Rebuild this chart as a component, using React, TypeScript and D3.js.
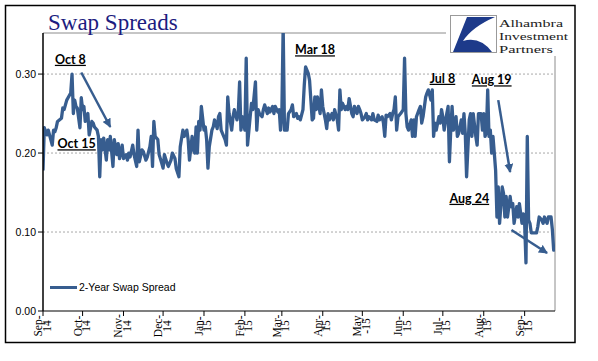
import React from "react";
import * as d3 from "d3";

// 2-year swap spread, roughly daily (one line per month)
const dates = [
  "2014-09-01","2014-09-02","2014-09-04","2014-09-05","2014-09-08","2014-09-09","2014-09-10","2014-09-11","2014-09-12","2014-09-15","2014-09-16","2014-09-17","2014-09-18","2014-09-19","2014-09-20","2014-09-22","2014-09-23","2014-09-24","2014-09-25","2014-09-26","2014-09-27","2014-09-29","2014-09-30",
  "2014-10-01","2014-10-02","2014-10-03","2014-10-05","2014-10-06","2014-10-08","2014-10-09","2014-10-10","2014-10-12","2014-10-13","2014-10-14","2014-10-15","2014-10-16","2014-10-17","2014-10-19","2014-10-20","2014-10-21","2014-10-22","2014-10-24","2014-10-25","2014-10-27","2014-10-28","2014-10-29","2014-10-31",
  "2014-11-01","2014-11-03","2014-11-04","2014-11-05","2014-11-06","2014-11-08","2014-11-09","2014-11-11","2014-11-12","2014-11-13","2014-11-15","2014-11-16","2014-11-18","2014-11-19","2014-11-21","2014-11-22","2014-11-23","2014-11-24","2014-11-25","2014-11-27","2014-11-28","2014-11-30",
  "2014-12-01","2014-12-02","2014-12-04","2014-12-05","2014-12-07","2014-12-08","2014-12-10","2014-12-11","2014-12-13","2014-12-14","2014-12-16","2014-12-17","2014-12-19","2014-12-20","2014-12-21","2014-12-23","2014-12-24","2014-12-25","2014-12-26","2014-12-27","2014-12-28","2014-12-29","2014-12-30",
  "2015-01-01","2015-01-02","2015-01-03","2015-01-04","2015-01-05","2015-01-07","2015-01-08","2015-01-09","2015-01-11","2015-01-12","2015-01-13","2015-01-14","2015-01-15","2015-01-17","2015-01-18","2015-01-19","2015-01-20","2015-01-22","2015-01-23","2015-01-24","2015-01-26","2015-01-27","2015-01-28","2015-01-29","2015-01-30",
  "2015-02-01","2015-02-02","2015-02-03","2015-02-05","2015-02-06","2015-02-07","2015-02-09","2015-02-10","2015-02-11","2015-02-12","2015-02-14","2015-02-15","2015-02-16","2015-02-18","2015-02-19","2015-02-20","2015-02-22","2015-02-23","2015-02-24","2015-02-26","2015-02-27","2015-02-28",
  "2015-03-01","2015-03-02","2015-03-03","2015-03-05","2015-03-06","2015-03-08","2015-03-09","2015-03-10","2015-03-12","2015-03-13","2015-03-14","2015-03-15","2015-03-17","2015-03-18","2015-03-19","2015-03-21","2015-03-22","2015-03-24","2015-03-25","2015-03-26","2015-03-27","2015-03-28","2015-03-30","2015-03-31",
  "2015-04-01","2015-04-03","2015-04-04","2015-04-05","2015-04-06","2015-04-08","2015-04-09","2015-04-10","2015-04-12","2015-04-13","2015-04-14","2015-04-15","2015-04-16","2015-04-18","2015-04-19","2015-04-20","2015-04-21","2015-04-23","2015-04-24","2015-04-25","2015-04-27","2015-04-28","2015-04-29","2015-04-30",
  "2015-05-01","2015-05-03","2015-05-04","2015-05-05","2015-05-06","2015-05-08","2015-05-09","2015-05-10","2015-05-12","2015-05-13","2015-05-14","2015-05-16","2015-05-17","2015-05-18","2015-05-19","2015-05-20","2015-05-22","2015-05-23","2015-05-24","2015-05-25","2015-05-26","2015-05-27","2015-05-28","2015-05-30",
  "2015-06-01","2015-06-02","2015-06-03","2015-06-04","2015-06-05","2015-06-07","2015-06-08","2015-06-09","2015-06-10","2015-06-11","2015-06-13","2015-06-14","2015-06-15","2015-06-16","2015-06-18","2015-06-19","2015-06-20","2015-06-22","2015-06-23","2015-06-24","2015-06-25","2015-06-26","2015-06-28","2015-06-29","2015-06-30",
  "2015-07-01","2015-07-02","2015-07-04","2015-07-05","2015-07-06","2015-07-07","2015-07-08","2015-07-09","2015-07-11","2015-07-12","2015-07-13","2015-07-15","2015-07-16","2015-07-17","2015-07-18","2015-07-19","2015-07-21","2015-07-22","2015-07-23","2015-07-24","2015-07-26","2015-07-27","2015-07-28","2015-07-30","2015-07-31",
  "2015-08-01","2015-08-02","2015-08-03","2015-08-04","2015-08-05","2015-08-06","2015-08-07","2015-08-08","2015-08-09","2015-08-10","2015-08-11","2015-08-12","2015-08-13","2015-08-15","2015-08-16","2015-08-17","2015-08-18","2015-08-19","2015-08-21","2015-08-22","2015-08-23","2015-08-24","2015-08-26","2015-08-27","2015-08-28","2015-08-30","2015-08-31",
  "2015-09-01","2015-09-02","2015-09-03","2015-09-04","2015-09-05","2015-09-06","2015-09-07","2015-09-10","2015-09-11","2015-09-12","2015-09-14","2015-09-15","2015-09-16","2015-09-18","2015-09-19","2015-09-20","2015-09-21","2015-09-22","2015-09-23","2015-09-24",
];

const spreadValues = [
  0.178,0.232,0.223,0.229,0.210,0.229,0.227,0.232,0.240,0.244,0.257,0.255,0.261,0.267,0.270,0.276,0.300,0.250,0.267,0.259,0.257,0.232,0.270,
  0.255,0.259,0.240,0.250,0.223,0.240,0.238,0.233,0.229,0.221,0.170,0.217,0.204,0.219,0.191,0.217,0.204,0.221,0.183,0.217,0.198,0.212,0.193,0.210,
  0.193,0.198,0.191,0.200,0.195,0.210,0.198,0.183,0.229,0.189,0.204,0.202,0.191,0.195,0.208,0.221,0.183,0.240,0.221,0.217,0.198,0.187,
  0.181,0.198,0.187,0.183,0.191,0.200,0.193,0.180,0.170,0.208,0.229,0.221,0.229,0.217,0.191,0.221,0.204,0.200,0.233,0.200,0.240,0.229,0.259,
  0.229,0.233,0.217,0.181,0.208,0.229,0.233,0.242,0.231,0.246,0.250,0.229,0.225,0.217,0.210,0.271,0.250,0.229,0.246,0.255,0.242,0.252,0.290,0.229,0.246,
  0.229,0.320,0.210,0.246,0.263,0.255,0.290,0.229,0.255,0.250,0.246,0.255,0.261,0.250,0.257,0.252,0.259,0.250,0.259,0.252,0.255,0.229,
  0.250,0.360,0.229,0.229,0.250,0.255,0.261,0.246,0.250,0.244,0.246,0.242,0.255,0.286,0.309,0.301,0.292,0.242,0.244,0.271,0.255,0.271,0.250,0.280,
  0.259,0.242,0.231,0.250,0.242,0.250,0.242,0.255,0.242,0.229,0.280,0.255,0.263,0.255,0.259,0.255,0.269,0.250,0.246,0.259,0.250,0.259,0.255,0.250,
  0.242,0.246,0.250,0.242,0.246,0.242,0.250,0.242,0.240,0.248,0.242,0.246,0.238,0.221,0.248,0.246,0.250,0.242,0.250,0.255,0.271,0.229,0.246,0.250,
  0.255,0.320,0.250,0.233,0.229,0.242,0.221,0.242,0.221,0.246,0.255,0.259,0.238,0.246,0.271,0.276,0.280,0.267,0.280,0.221,0.238,0.229,0.246,0.238,0.255,
  0.246,0.229,0.250,0.259,0.189,0.229,0.259,0.229,0.246,0.221,0.225,0.242,0.225,0.250,0.225,0.170,0.242,0.250,0.221,0.250,0.221,0.210,0.250,0.250,0.229,
  0.250,0.221,0.227,0.280,0.221,0.229,0.200,0.221,0.200,0.178,0.119,0.157,0.111,0.157,0.149,0.119,0.145,0.119,0.145,0.132,0.136,0.111,0.132,0.119,0.136,0.111,0.123,
  0.111,0.061,0.221,0.115,0.111,0.099,0.099,0.099,0.107,0.119,0.115,0.111,0.119,0.111,0.119,0.119,0.119,0.103,0.077,0.080,
];

const monthLabels = [
  ["Sep-", "14"], ["Oct-", "14"], ["Nov-", "14"], ["Dec-", "14"], ["Jan-", "15"], ["Feb-", "15"], ["Mar-", "15"],
  ["Apr-", "15"], ["May", "-15"], ["Jun-", "15"], ["Jul-", "15"], ["Aug-", "15"], ["Sep-", "15"],
];
const yTicks = [0, 0.1, 0.2, 0.3];
const gridValues = [0.1, 0.2, 0.3];

// callouts
const noteLabels = ["Oct 8", "Oct 15", "Mar 18", "Jul 8", "Aug 19", "Aug 24"];
const noteDates = ["2014-09-10", "2014-09-12", "2015-03-11", "2015-06-21", "2015-07-23", "2015-07-06"];
const noteValues = [0.313, 0.206, 0.325, 0.289, 0.287, 0.137];

const arrowStartDates = ["2014-09-30", "2015-08-12", "2015-08-22"];
const arrowStartValues = [0.302, 0.267, 0.1025];
const arrowEndDates = ["2014-10-22", "2015-08-21", "2015-09-18"];
const arrowEndValues = [0.233, 0.176, 0.0734];

const logoLines = ["Alhambra", "Investment", "Partners"];
const logoWidths = [64, 69, 54];

const lineColor = "#375d8f";
const parse = d3.timeParse("%Y-%m-%d");

export default function App() {
  const W = 598, H = 361;
  const left = 43, right = 555, top = 33, bottom = 311;

  const x = d3.scaleTime()
    .domain([parse("2014-09-01")!, parse("2015-09-24")!])
    .range([left, right]);
  const y = d3.scaleLinear().domain([0, 0.352]).range([bottom, top]);

  const data = d3.zip(dates, spreadValues).map(([d, v]) => ({ date: parse(d as string)!, value: v as number }));
  const line = d3.line<{ date: Date; value: number }>()
    .x(d => x(d.date))
    .y(d => y(d.value));

  const monthTicks = d3.timeMonth.range(parse("2014-09-01")!, parse("2015-09-02")!);
  const fmt = d3.format(".2f");

  return (
    <svg width={W} height={H} style={{ position: "absolute", left: 0, top: 0, background: "#fff" }}>
      <defs>
        <clipPath id="plot">
          <rect x={left} y={top} width={right - left} height={bottom - top} />
        </clipPath>
        <marker id="head" viewBox="0 0 10 10" refX="9" refY="5" markerWidth="9" markerHeight="9"
          markerUnits="userSpaceOnUse" orient="auto">
          <path d="M0,0 L10,5 L0,10 Z" fill={lineColor} />
        </marker>
      </defs>

      <rect x={5.5} y={5.5} width={569.5} height={337} fill="#fff" stroke="#000" strokeWidth={1.5} />

      {/* grid */}
      {gridValues.map(v => (
        <line key={v} x1={left} x2={right} y1={y(v)} y2={y(v)} stroke="#a8a8a8" strokeWidth={1} strokeDasharray="2,2" />
      ))}
      <line x1={left} x2={right} y1={top} y2={top} stroke="#8c8c8c" />
      <line x1={right} x2={right} y1={top} y2={bottom} stroke="#8c8c8c" />

      {/* series */}
      <path d={line(data) ?? ""} fill="none" stroke={lineColor} strokeWidth={3.3} strokeLinejoin="round" clipPath="url(#plot)" />

      {/* y axis */}
      <line x1={left} x2={left} y1={top} y2={bottom} stroke="#000" strokeWidth={1.5} />
      {yTicks.map(v => (
        <g key={v}>
          <line x1={left - 5} x2={left} y1={y(v)} y2={y(v)} stroke="#000" />
          <text x={36} y={y(v)} dy="0.35em" textAnchor="end" fontFamily="Liberation Sans, Arial, sans-serif" fontSize={10.5}>
            {fmt(v)}
          </text>
        </g>
      ))}

      {/* x axis */}
      <line x1={left} x2={right} y1={bottom} y2={bottom} stroke="#000" strokeWidth={1.2} />
      {monthTicks.map((d, i) => (
        <g key={i}>
          <line x1={x(d)} x2={x(d)} y1={bottom} y2={bottom + 5} stroke="#000" />
          <g transform={`translate(${x(d)},${326}) rotate(-90)`}>
            <text x={0} y={-1} textAnchor="middle" fontFamily="Liberation Serif, Times New Roman, serif" fontSize={11.5}>
              {monthLabels[i]?.[0]}
            </text>
            <text x={0} y={7.5} textAnchor="middle" fontFamily="Liberation Serif, Times New Roman, serif" fontSize={11.5}>
              {monthLabels[i]?.[1]}
            </text>
          </g>
        </g>
      ))}

      {/* legend */}
      <line x1={50} x2={77} y1={287.5} y2={287.5} stroke={lineColor} strokeWidth={3} />
      <text x={79} y={291} fontFamily="Liberation Sans, Arial, sans-serif" fontSize={10.5} fill="#000">
        2-Year Swap Spread
      </text>

      {/* callouts */}
      {noteLabels.map((t, i) => (
        <text key={t} x={x(parse(noteDates[i])!)} y={y(noteValues[i])} fontFamily="Lato, sans-serif" fontWeight="bold"
          fontSize={12.5} textDecoration="underline" fill="#000">
          {t}
        </text>
      ))}
      {arrowStartDates.map((d, i) => (
        <line key={d} x1={x(parse(d)!)} y1={y(arrowStartValues[i])} x2={x(parse(arrowEndDates[i])!)} y2={y(arrowEndValues[i])}
          stroke={lineColor} strokeWidth={2.5} markerEnd="url(#head)" />
      ))}

      {/* title */}
      <text x={48} y={30} fontFamily="Liberation Serif, Times New Roman, serif" fontSize={23} fill="#1c1c80">
        Swap Spreads
      </text>

      {/* logo */}
      <rect x={446} y={8} width={128} height={48} fill="#fff" />
      <rect x={450.5} y={15.5} width={46} height={37} fill="#fff" stroke="#9a9a9a" />
      <path d="M467,17 L495,17 Q472,27 463,41 Q480,36 492,52 L453,52 Z" fill="#1d3a8a" />
      <g fontFamily="Liberation Serif, Times New Roman, serif" fontSize={11} fill="#222">
        {logoLines.map((t, i) => (
          <text key={t} x={499} y={27 + i * 12.8} textLength={logoWidths[i]} lengthAdjust="spacingAndGlyphs">{t}</text>
        ))}
      </g>
    </svg>
  );
}
